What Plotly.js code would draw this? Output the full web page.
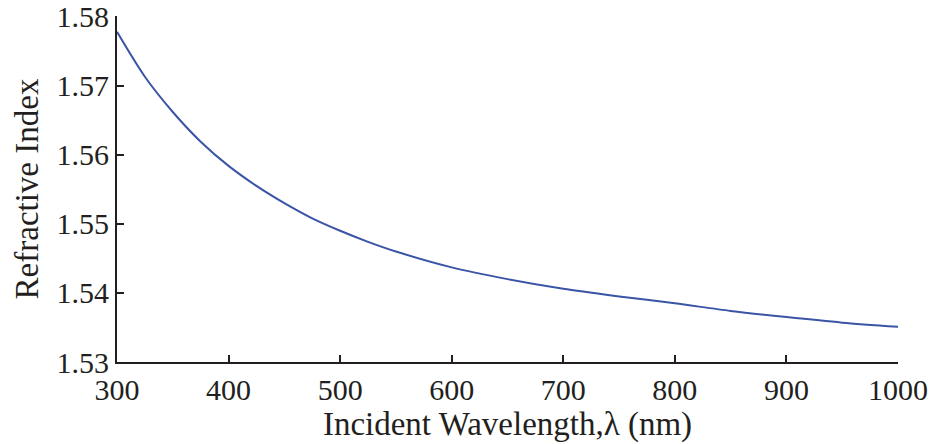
<!DOCTYPE html>
<html>
<head>
<meta charset="utf-8">
<script src="https://cdn.plot.ly/plotly-3.0.1.min.js"></script>
<style>html,body{margin:0;padding:0;background:#fff;}#chart{width:935px;height:444px;}</style>
</head>
<body>
<div id="chart"></div>
<script>
const wavelength = [300, 325, 350, 375, 400, 425, 450, 475, 500, 525, 550, 600, 650, 700, 750, 800, 850, 900, 950, 1000];
const refractiveIndex = [1.5778, 1.5713, 1.5662, 1.5619, 1.5584, 1.5555, 1.5530, 1.5508, 1.5490, 1.5474, 1.5460, 1.5437, 1.5420, 1.5406, 1.5395, 1.5385, 1.5374, 1.5365, 1.5357, 1.5351];
const xTicks = [300, 400, 500, 600, 700, 800, 900, 1000];
const yTicks = [1.53, 1.54, 1.55, 1.56, 1.57, 1.58];

const fam = 'Liberation Serif, Times New Roman, serif';
const axisColor = '#231f20';
const tickFont = {family: fam, size: 30, color: axisColor};
const titleFont = {family: fam, size: 33, color: axisColor};

Plotly.newPlot('chart', [{
  x: wavelength,
  y: refractiveIndex,
  type: 'scatter',
  mode: 'lines',
  line: {color: '#3a54a6', width: 2, shape: 'spline', smoothing: 0.8},
  hoverinfo: 'skip'
}], {
  width: 935, height: 444,
  margin: {l: 117, r: 37, t: 16, b: 82},
  paper_bgcolor: '#fff', plot_bgcolor: '#fff',
  showlegend: false,
  font: {family: fam, color: axisColor},
  xaxis: {
    range: [300, 1000],
    tickvals: xTicks,
    ticktext: xTicks.map(String),
    ticks: 'inside', ticklen: 7, tickwidth: 2, tickcolor: axisColor,
    showline: true, linecolor: axisColor, linewidth: 2, mirror: false,
    showgrid: false, zeroline: false,
    tickfont: tickFont, ticklabeloverflow: 'allow',
    title: {text: 'Incident Wavelength,\u03bb (nm)', font: titleFont, standoff: 0}
  },
  yaxis: {
    range: [1.53, 1.5801],
    tickvals: yTicks,
    ticktext: yTicks.map(v => v.toFixed(2)),
    ticks: 'inside', ticklen: 7, tickwidth: 2, tickcolor: axisColor,
    showline: true, linecolor: axisColor, linewidth: 2, mirror: false,
    showgrid: false, zeroline: false,
    tickfont: tickFont, ticklabeloverflow: 'allow',
    title: {text: 'Refractive Index', font: titleFont, standoff: 8}
  }
}, {staticPlot: true, displayModeBar: false});
</script>
</body>
</html>
